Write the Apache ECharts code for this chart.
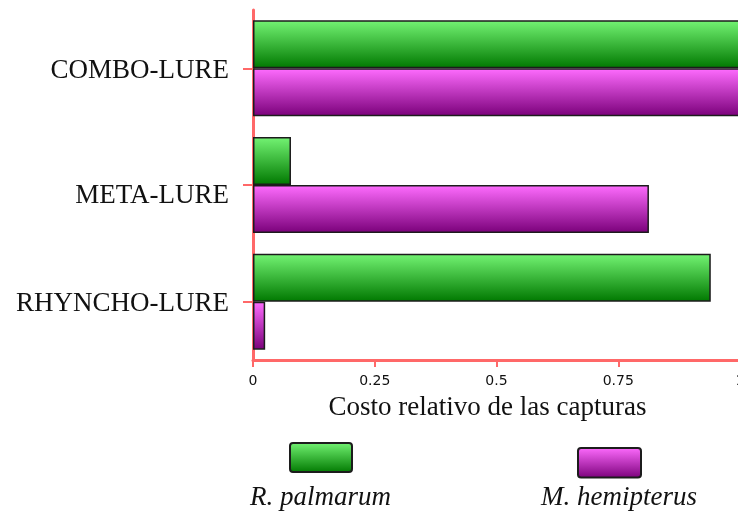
<!DOCTYPE html>
<html>
<head>
<meta charset="utf-8">
<script src="https://cdn.jsdelivr.net/npm/echarts@6/dist/echarts.min.js"></script>
<style>
  html, body { margin: 0; padding: 0; background: #fff; }
  #chart { width: 738px; height: 514px; }
</style>
</head>
<body>
<div id="chart"></div>
<script>
  // categories from bottom to top
  var lures = ['RHYNCHO-LURE', 'META-LURE', 'COMBO-LURE'];
  var palmarum = [0.94, 0.078, 1];
  var hemipterus = [0.025, 0.813, 1];
  var xTicks = [0, 0.25, 0.5, 0.75, 1];

  var serif = '"Liberation Serif", "DejaVu Serif", serif';
  var axisRed = '#ff6868';
  var boxIcon = 'path://M3,0 H59 Q62,0 62,3 V26 Q62,29 59,29 H3 Q0,29 0,26 V3 Q0,0 3,0 Z';

  function grad(top, bottom) {
    return new echarts.graphic.LinearGradient(0, 0, 0, 1, [
      { offset: 0, color: top },
      { offset: 1, color: bottom }
    ]);
  }

  var chart = echarts.init(document.getElementById('chart'));
  chart.setOption({
    animation: false,
    grid: { left: 253, top: 10, width: 487, height: 350, containLabel: false, outerBoundsMode: 'none' },
    xAxis: {
      type: 'value',
      min: 0,
      max: 1,
      interval: 0.25,
      name: 'Costo relativo de las capturas',
      nameLocation: 'middle',
      nameGap: 34,
      nameTextStyle: { fontFamily: serif, fontSize: 27, color: '#111', padding: [0, 18, 0, 0] },
      axisLine: { show: true, lineStyle: { color: axisRed, width: 3 } },
      axisTick: { show: true, length: 7, lineStyle: { color: axisRed, width: 2 } },
      axisLabel: {
        margin: 14,
        fontFamily: '"DejaVu Sans", sans-serif',
        fontSize: 14,
        color: '#111',
        formatter: function (v) { return xTicks.indexOf(v) >= 0 ? String(v) : ''; }
      },
      splitLine: { show: false }
    },
    yAxis: {
      type: 'category',
      data: lures,
      axisLine: { show: true, lineStyle: { color: axisRed, width: 3 } },
      axisTick: { show: true, alignWithLabel: true, length: 10, lineStyle: { color: axisRed, width: 2 } },
      axisLabel: {
        margin: 24,
        formatter: function (v) { return v === 'META-LURE' ? '{m|' + v + '}' : '{n|' + v + '}'; },
        rich: {
          n: { fontFamily: serif, fontSize: 27, color: '#111', padding: [5, 0, 0, 0] },
          m: { fontFamily: serif, fontSize: 27, color: '#111', padding: [22, 0, 0, 0] }
        }
      }
    },
    legend: [
      {
        data: ['R. palmarum'], left: 289, top: 442, padding: 0,
        itemWidth: 62, itemHeight: 29, icon: boxIcon,
        formatter: function () { return ''; }, selectedMode: false
      },
      {
        data: ['M. hemipterus'], left: 577, top: 447, padding: 0,
        itemWidth: 63, itemHeight: 31, icon: boxIcon,
        formatter: function () { return ''; }, selectedMode: false
      }
    ],
    graphic: [
      { type: 'text', left: 250, top: 484, style: { text: 'R. palmarum', font: 'italic 27px ' + serif, fill: '#111' } },
      { type: 'text', left: 541, top: 484, style: { text: 'M. hemipterus', font: 'italic 27px ' + serif, fill: '#111' } }
    ],
    series: [
      {
        name: 'R. palmarum',
        type: 'bar',
        data: palmarum,
        barWidth: 48,
        barGap: '0%',
        itemStyle: { color: grad('#74f474', '#007800'), borderColor: '#1c1c1c', borderWidth: 1.5 }
      },
      {
        name: 'M. hemipterus',
        type: 'bar',
        data: hemipterus,
        barWidth: 48,
        barGap: '0%',
        itemStyle: { color: grad('#ff6cff', '#7a007a'), borderColor: '#1c1c1c', borderWidth: 1.5 }
      }
    ]
  });
</script>
</body>
</html>
